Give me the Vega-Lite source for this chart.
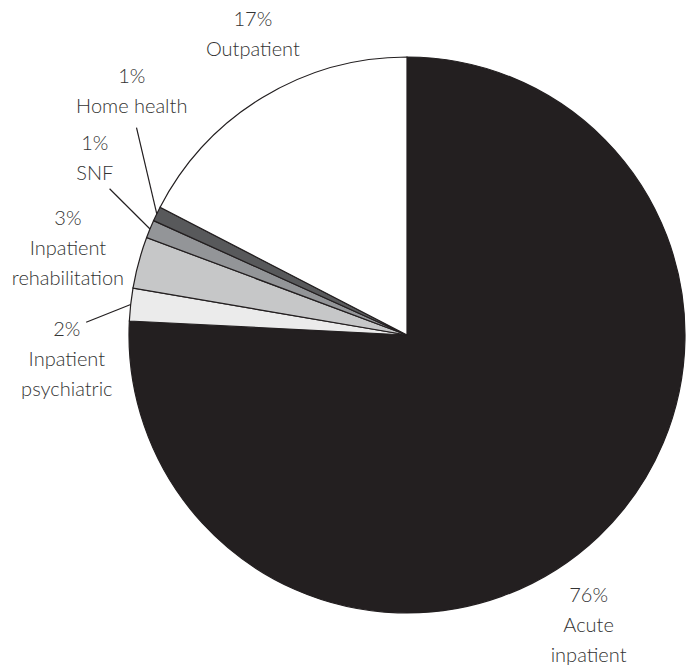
{
  "$schema": "https://vega.github.io/schema/vega-lite/v6.json",
  "width": 556,
  "height": 556,
  "autosize": {"type": "none"},
  "padding": {"left": 129, "top": 57, "right": 6, "bottom": 55},
  "background": "white",
  "config": {"view": {"stroke": null}},
  "data": {
    "values": [
      {"order": 1, "category": "Acute\ninpatient", "pct": "76%", "share": 75.8},
      {"order": 2, "category": "Inpatient\npsychiatric", "pct": "2%", "share": 1.9},
      {"order": 3, "category": "Inpatient\nrehabilitation", "pct": "3%", "share": 3.0},
      {"order": 4, "category": "SNF", "pct": "1%", "share": 1.05},
      {"order": 5, "category": "Home health", "pct": "1%", "share": 0.85},
      {"order": 6, "category": "Outpatient", "pct": "17%", "share": 17.4}
    ]
  },
  "transform": [
    {"joinaggregate": [{"op": "sum", "field": "share", "as": "total"}]},
    {"window": [{"op": "sum", "field": "share", "as": "cum"}], "sort": [{"field": "order"}], "frame": [null, 0]},
    {"calculate": "(datum.cum - datum.share / 2) / datum.total * 360", "as": "mid"},
    {"calculate": "datum.share < 5", "as": "small"},
    {"window": [{"op": "row_number", "as": "rn"}], "groupby": ["small"], "sort": [{"field": "order"}]},
    {"calculate": "datum.rn - 1", "as": "k"},
    {"calculate": "datum.small ? 265.8 + 20 * datum.k - 1.6 * datum.k * datum.k : datum.mid + (datum.mid < 180 ? 11.6 : 4.1)", "as": "la"},
    {"calculate": "datum.small ? 1.227 + 0.031 * datum.k : (datum.mid < 180 ? 1.234 : 1.212)", "as": "lr"},
    {"calculate": "datum.lr * sin(datum.la * PI / 180)", "as": "lx"},
    {"calculate": "datum.lr * cos(datum.la * PI / 180)", "as": "ly"},
    {"calculate": "datum.pct + '\\n' + datum.category", "as": "lab"},
    {"calculate": "length(split(datum.lab, '\\n'))", "as": "nl"},
    {"calculate": "datum.ly + (datum.nl - 1) * 15 / 278", "as": "ty"},
    {"calculate": "datum.ty - (datum.nl - 1) * 30 / 278", "as": "tl"},
    {"calculate": "sin(datum.mid * PI / 180)", "as": "ex"},
    {"calculate": "cos(datum.mid * PI / 180)", "as": "ey"},
    {"calculate": "clamp(datum.ey, datum.tl, datum.ty)", "as": "tyc"},
    {"calculate": "sqrt(pow(datum.lx - datum.ex, 2) + pow(datum.tyc - datum.ey, 2))", "as": "dl"},
    {"calculate": "datum.lx - 0.075 * (datum.lx - datum.ex) / datum.dl", "as": "sx"},
    {"calculate": "datum.tyc - 0.075 * (datum.tyc - datum.ey) / datum.dl", "as": "sy"}
  ],
  "layer": [
    {
      "mark": {"type": "arc", "stroke": "#231f20", "strokeWidth": 1.2, "strokeJoin": "miter"},
      "encoding": {
        "theta": {"field": "share", "type": "quantitative", "stack": true},
        "order": {"field": "order", "type": "quantitative"},
        "color": {
          "field": "order",
          "type": "nominal",
          "scale": {"domain": [1, 2, 3, 4, 5, 6], "range": ["#231f20", "#ebebeb", "#c6c7c8", "#939598", "#58595b", "#ffffff"]},
          "legend": null
        }
      }
    },
    {
      "transform": [{"filter": "datum.small && abs(datum.la - datum.mid) > 5"}],
      "mark": {"type": "rule", "stroke": "#231f20", "strokeWidth": 1.2},
      "encoding": {
        "x": {"field": "ex", "type": "quantitative", "scale": {"domain": [-1, 1], "nice": false, "zero": false}, "axis": null},
        "y": {"field": "ey", "type": "quantitative", "scale": {"domain": [-1, 1], "nice": false, "zero": false}, "axis": null},
        "x2": {"field": "sx"},
        "y2": {"field": "sy"}
      }
    },
    {
      "mark": {"type": "text", "lineBreak": "\n", "lineHeight": 30, "align": "center", "baseline": "middle", "font": "'Lato Light', Lato", "fontWeight": 300, "fontSize": 20, "fill": "#333333"},
      "encoding": {
        "x": {"field": "lx", "type": "quantitative", "scale": {"domain": [-1, 1], "nice": false, "zero": false}, "axis": null},
        "y": {"field": "ty", "type": "quantitative", "scale": {"domain": [-1, 1], "nice": false, "zero": false}, "axis": null},
        "text": {"field": "lab"}
      }
    }
  ]
}
